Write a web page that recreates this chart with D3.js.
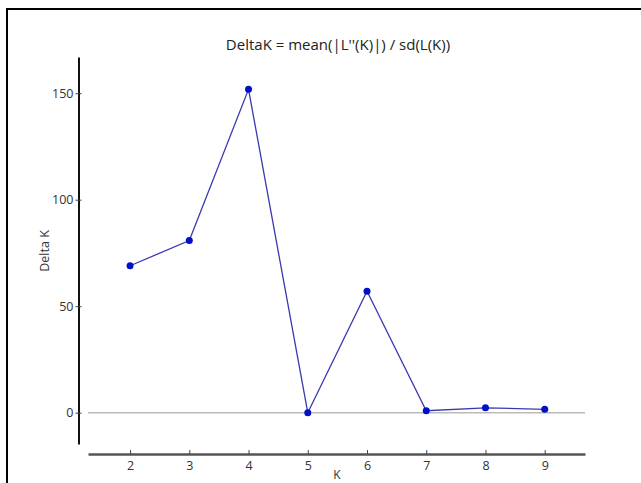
<!DOCTYPE html>
<html><head><meta charset="utf-8">
<script src="https://cdn.jsdelivr.net/npm/d3@7"></script>
<style>body{margin:0;background:#fff;} text{font-family:"Open Sans",sans-serif;}</style>
</head><body>
<svg id="c" width="641" height="483"></svg>
<script>
const kValues = [2, 3, 4, 5, 6, 7, 8, 9];
const deltaK = [69.0, 80.8, 151.8, 0.0, 57.0, 0.9, 2.3, 1.6];
const xTicks = [2, 3, 4, 5, 6, 7, 8, 9];
const yTicks = [0, 50, 100, 150];
const titleText = "DeltaK = mean(|L''(K)|) / sd(L(K))";
const xLabel = "K";
const yLabel = "Delta K";

const svg = d3.select("#c");
svg.append("rect").attr("x", 7).attr("y", 9).attr("width", 700).attr("height", 600)
  .attr("fill", "none").attr("stroke", "#000").attr("stroke-width", 2);

const x = d3.scaleLinear().domain([1.29, 9.68]).range([88, 585]);
const y = d3.scaleLinear().domain([-14.7, 167]).range([444, 57]);

// y axis
const yAxis = svg.append("g").attr("transform", "translate(78.5,0)")
  .call(d3.axisLeft(y).tickValues(yTicks).tickSize(3).tickSizeOuter(0).tickPadding(2));
yAxis.select(".domain").attr("stroke", "#111").attr("stroke-width", 2);
yAxis.selectAll(".tick line").attr("stroke", "#444").attr("x2", 3).attr("x1", -3);
yAxis.selectAll("text").attr("font-size", 12.5).attr("fill", "#333");

// x axis
const xAxis = svg.append("g").attr("transform", "translate(0,454)")
  .call(d3.axisBottom(x).tickValues(xTicks).tickSize(0).tickSizeOuter(0).tickPadding(7));
xAxis.select(".domain").attr("stroke", "#555").attr("stroke-width", 2.5);
xAxis.selectAll(".tick line").attr("stroke", "#444").attr("y1", -4).attr("y2", 0);
xAxis.selectAll("text").attr("font-size", 12.5).attr("fill", "#333");

// zero line
svg.append("line").attr("x1", x(1.29)).attr("x2", x(9.68)).attr("y1", y(0)).attr("y2", y(0))
  .attr("stroke", "#bbb").attr("stroke-width", 1.5);

const pts = kValues.map((k, i) => [k, deltaK[i]]);
svg.append("path").datum(pts)
  .attr("d", d3.line().x(d => x(d[0])).y(d => y(d[1])))
  .attr("fill", "none").attr("stroke", "#3a3ab0").attr("stroke-width", 1.3);
svg.selectAll("circle.pt").data(pts).enter().append("circle")
  .attr("cx", d => x(d[0])).attr("cy", d => y(d[1])).attr("r", 3.5).attr("fill", "#0010c8");

svg.append("text").attr("x", 338).attr("y", 50).attr("text-anchor", "middle")
  .attr("font-size", 15).attr("fill", "#222").text(titleText);
svg.append("text").attr("x", 337).attr("y", 479).attr("text-anchor", "middle")
  .attr("font-size", 12).attr("fill", "#333").text(xLabel);
svg.append("text").attr("transform", "translate(49,251) rotate(-90)").attr("text-anchor", "middle")
  .attr("font-size", 12.5).attr("fill", "#333").text(yLabel);
</script>
</body></html>
